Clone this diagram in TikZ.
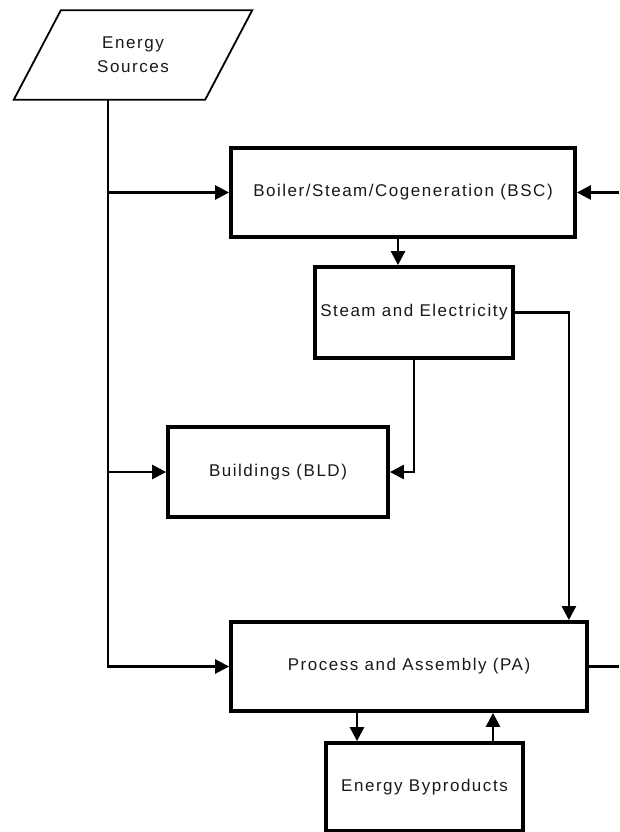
\documentclass[tikz,border=0pt]{standalone}
\usepackage{fontspec}
\setmainfont[LetterSpace=9]{Liberation Sans}
\usetikzlibrary{arrows.meta}

\begin{document}
\begin{tikzpicture}[
	x=1pt, y=-1pt,
	font=\fontsize{17}{24}\selectfont,
	text=black!90,
	box/.style={draw, line width=3.8pt, inner sep=0pt, minimum height=89pt, align=center},
	conn/.style={line width=2.6pt},
	arr/.style={conn, -{Triangle[length=14pt,width=14pt]}}
]
	\useasboundingbox (0,0) rectangle (619,832);
	% input
	\node[inner sep=0pt, minimum width=191pt, minimum height=89pt, align=center] (src) at (133,55) {Energy\\Sources};
	\draw[line width=1.8pt] ([xshift=-23.5pt]src.south west) -- ([xshift=-23.5pt]src.south east) -- ([xshift=23.5pt]src.north east) -- ([xshift=23.5pt]src.north west) -- cycle;
	% blocks
	\node[box, minimum width=344pt] (bsc) at (403,192.5) {Boiler/Steam/Cogeneration (BSC)};
	\node[box, minimum width=198pt, minimum height=91pt] (se) at (414,312.5) {Steam and Electricity};
	\node[box, minimum width=220pt, minimum height=90pt] (bld) at (278,472) {Buildings (BLD)};
	\node[box, minimum width=356pt] (pa) at (409,666.5) {Process and Assembly (PA)};
	\node[box, minimum width=197pt, minimum height=88pt] (eb) at (424.5,787) {Energy Byproducts};
	% flows
	\coordinate (trunk) at (108,0);
	\coordinate (rim) at (619,0);
	\draw[arr] (src.south -| trunk) |- (pa.west);
	\draw[arr] (trunk |- bsc.west) -- (bsc.west);
	\draw[arr] (trunk |- bld.west) -- (bld.west);
	\draw[arr] (rim |- bsc.east) -- (bsc.east);
	\draw[conn] (pa.east) -- (rim |- pa.east);
	\draw[arr] ([xshift=-5pt]bsc.south) -- ([xshift=-5pt]bsc.south |- se.north);
	\draw[arr] (se.east) -| ([xshift=-20pt]pa.north east);
	\draw[arr] (se.south) |- (bld.east);
	\draw[arr] ([xshift=-52pt]pa.south) -- ([xshift=-52pt]pa.south |- eb.north);
	\draw[arr] ([xshift=84pt]pa.south |- eb.north) -- ([xshift=84pt]pa.south);
\end{tikzpicture}
\end{document}
